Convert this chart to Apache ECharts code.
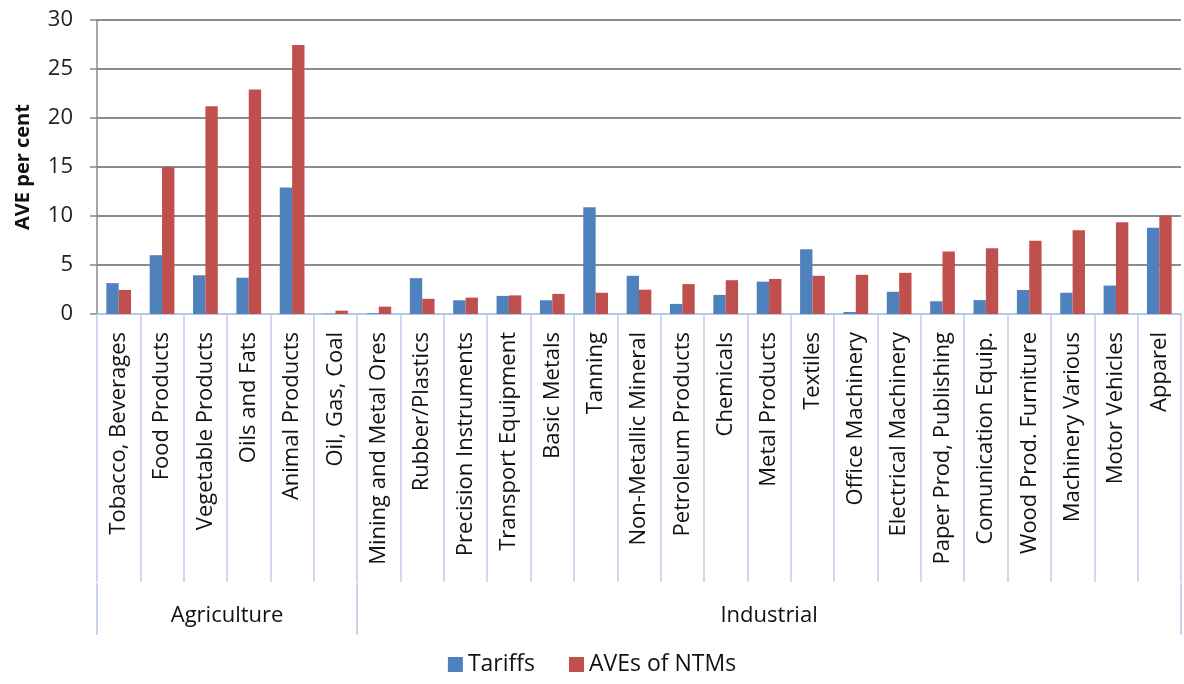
<!DOCTYPE html>
<html>
<head>
<meta charset="utf-8">
<script src="https://cdn.jsdelivr.net/npm/echarts@6/dist/echarts.min.js"></script>
<style>html,body{margin:0;padding:0;background:#fff}#c{width:1184px;height:684px}</style>
</head>
<body>
<div id="c"></div>
<script>
const categories = ["Tobacco, Beverages","Food Products","Vegetable Products","Oils and Fats","Animal Products","Oil, Gas, Coal","Mining and Metal Ores","Rubber/Plastics","Precision Instruments","Transport Equipment","Basic Metals","Tanning","Non-Metallic Mineral","Petroleum Products","Chemicals","Metal Products","Textiles","Office Machinery","Electrical Machinery","Paper Prod, Publishing","Comunication Equip.","Wood Prod. Furniture","Machinery Various","Motor Vehicles","Apparel"];
const tariffs = [3.15,6.0,3.95,3.7,12.9,0.03,0.07,3.66,1.4,1.85,1.4,10.9,3.9,1.03,1.95,3.3,6.6,0.2,2.27,1.3,1.42,2.45,2.17,2.9,8.8];
const ntms = [2.45,15.0,21.2,22.9,27.45,0.34,0.75,1.55,1.67,1.9,2.05,2.17,2.48,3.05,3.45,3.58,3.9,4.0,4.2,6.38,6.7,7.47,8.55,9.35,10.05];
const groups = ["Agriculture","Industrial"];
const groupSizes = [6,19];
const seriesNames = ["Tariffs","AVEs of NTMs"];

// group axis on half-band points: 2*N+1 points
const N = categories.length;
const groupAxisData = new Array(2*N+1).fill('');
const groupBoundaries = [0];
let start = 0;
groups.forEach((g,i)=>{
  groupAxisData[2*start + groupSizes[i]] = g;
  start += groupSizes[i];
  groupBoundaries.push(2*start);
});

const FONT = "'Open Sans', sans-serif";
const chart = echarts.init(document.getElementById('c'));
chart.setOption({
  animation:false,
  textStyle:{fontFamily:FONT},
  grid:{left:97,right:-7,top:20,bottom:370},
  legend:{
    data:seriesNames, left:'center', bottom:3, itemWidth:15, itemHeight:15, itemGap:34,
    icon:'rect', textStyle:{fontSize:23,color:'#111',fontFamily:FONT}
  },
  xAxis:[{
    type:'category', data:categories, position:'bottom',
    axisLine:{lineStyle:{color:'#b4c7e7',width:2}},
    axisTick:{show:true,interval:0,length:268,lineStyle:{color:'#bccdea',width:1.5}},
    axisLabel:{rotate:90,fontSize:22,color:'#111',margin:18,interval:0,fontFamily:FONT}
  },{
    type:'category', data:groupAxisData, position:'bottom', offset:269, boundaryGap:false,
    axisLine:{show:false},
    axisTick:{show:true,length:52,interval:(i)=>groupBoundaries.includes(i),lineStyle:{color:'#b4c7e7',width:1.5}},
    axisLabel:{interval:0,fontSize:22,color:'#111',margin:22,fontFamily:FONT}
  }],
  yAxis:{
    type:'value', min:0, max:30, interval:5,
    name:'AVE per cent', nameLocation:'middle', nameGap:64,
    nameTextStyle:{fontSize:20,fontWeight:'bold',color:'#111',fontFamily:FONT},
    axisLine:{show:true,lineStyle:{color:'#888',width:1.5}},
    axisTick:{show:true,length:7,lineStyle:{color:'#888',width:1.5}},
    axisLabel:{fontSize:22,color:'#222',margin:24,fontFamily:FONT},
    splitLine:{lineStyle:{color:'#8c8c8c',width:2}}
  },
  series:[{
    name:seriesNames[0], type:'bar', data:tariffs, xAxisIndex:0,
    barGap:'0%', barCategoryGap:'43%',
    itemStyle:{color:'#4f81bd'}
  },{
    name:seriesNames[1], type:'bar', data:ntms, xAxisIndex:0,
    barGap:'0%', barCategoryGap:'43%',
    itemStyle:{color:'#c0504d'}
  }]
});
</script>
</body>
</html>
